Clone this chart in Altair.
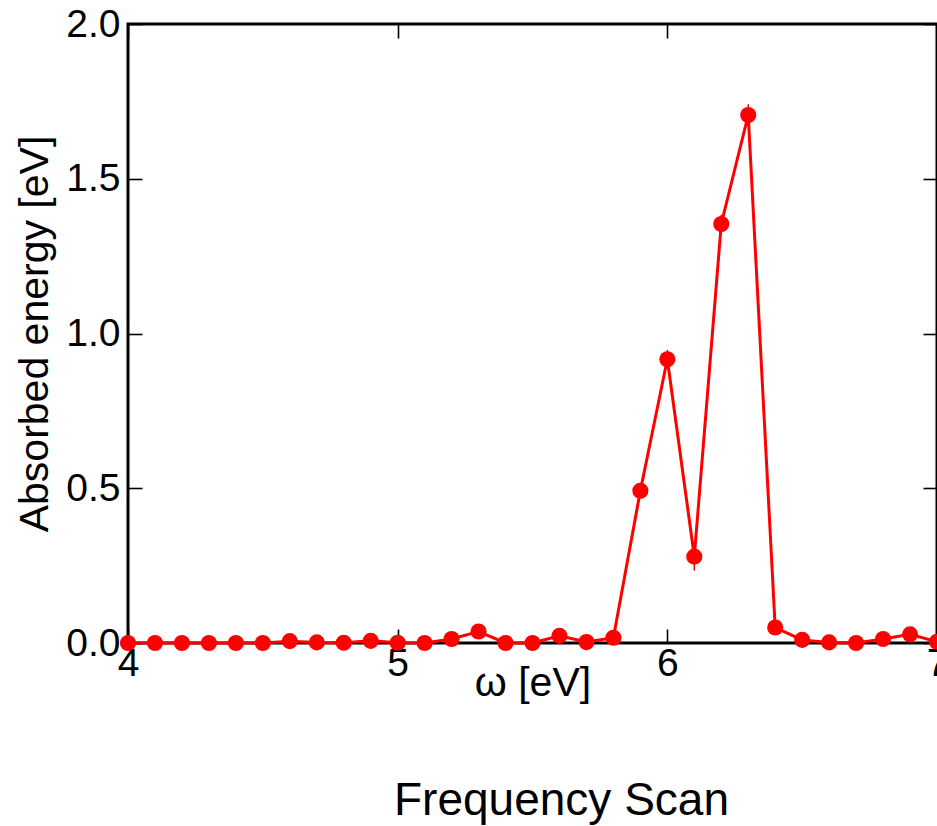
import altair as alt
import pandas as pd

# ---- data ----
omega = [4.0, 4.1, 4.2, 4.3, 4.4, 4.5, 4.6, 4.7, 4.8, 4.9,
         5.0, 5.1, 5.2, 5.3, 5.4, 5.5, 5.6, 5.7, 5.8, 5.9,
         6.0, 6.1, 6.2, 6.3, 6.4, 6.5, 6.6, 6.7, 6.8, 6.9, 7.0]
energy = [0.000, 0.000, 0.000, 0.000, 0.000, 0.000, 0.006, 0.002, 0.001, 0.007,
          0.001, 0.000, 0.013, 0.037, 0.000, 0.000, 0.023, 0.003, 0.017, 0.492,
          0.917, 0.279, 1.354, 1.706, 0.050, 0.010, 0.002, 0.000, 0.013, 0.028, 0.004]
err = [0.0, 0.0, 0.0, 0.0, 0.0, 0.0, 0.0, 0.0, 0.0, 0.0,
       0.0, 0.0, 0.0, 0.0, 0.0, 0.0, 0.0, 0.0, 0.0, 0.02,
       0.03, 0.045, 0.03, 0.035, 0.0, 0.0, 0.0, 0.0, 0.0, 0.0, 0.0]
x_ticks = [4, 5, 6, 7]
y_ticks = [0.0, 0.5, 1.0, 1.5, 2.0]

df = pd.DataFrame({"omega": omega, "energy": energy, "err": err})
df["lo"] = df["energy"] - df["err"]
df["hi"] = df["energy"] + df["err"]

RED = "#ff0000"
FONT = "Liberation Sans"
TICK = 14

xscale = alt.Scale(domain=[4, 7], nice=False, zero=False)
yscale = alt.Scale(domain=[0, 2], nice=False, zero=False)

common_axis = dict(domain=False, grid=False, tickSize=TICK, tickWidth=1.6,
                   tickColor="black", offset=-TICK, labelFont=FONT,
                   labelFontSize=39, labelColor="black", labelFlush=False,
                   labelOverlap=False, labelBound=False, titleFont=FONT,
                   titleFontSize=41, titleFontWeight="normal", titleColor="black")

x_axis = alt.Axis(values=x_ticks, format="d", orient="bottom", labelPadding=1,
                  title="ω [eV]", titlePadding=-20, **common_axis)
y_axis = alt.Axis(values=y_ticks, format=".1f", orient="left", labelPadding=8,
                  title="Absorbed energy [eV]", titlePadding=9, **common_axis)

x_top = alt.Axis(values=x_ticks, orient="top", labels=False, title=None,
                 domain=False, grid=False, tickSize=TICK, tickWidth=1.6,
                 tickColor="black", offset=-TICK)
y_right = alt.Axis(values=y_ticks, orient="right", labels=False, title=None,
                   domain=False, grid=False, tickSize=TICK, tickWidth=1.6,
                   tickColor="black", offset=-TICK)

base = alt.Chart(df)

line = base.mark_line(color=RED, strokeWidth=3).encode(
    x=alt.X("omega:Q", scale=xscale, axis=x_axis),
    y=alt.Y("energy:Q", scale=yscale, axis=y_axis),
)

errbars = base.mark_rule(color=RED, strokeWidth=1.5).encode(
    x=alt.X("omega:Q", scale=xscale, axis=x_top),
    y=alt.Y("lo:Q", scale=yscale, axis=y_right),
    y2="hi:Q",
)

points = base.mark_circle(color=RED, size=260, opacity=1).encode(
    x=alt.X("omega:Q", scale=xscale, axis=None),
    y=alt.Y("energy:Q", scale=yscale, axis=None),
)

chart = (
    alt.layer(line, errbars, points)
    .resolve_axis(x="independent", y="independent")
    .properties(
        width=809,
        height=619,
        padding={"left": 128, "top": 24, "right": 0, "bottom": 183},
        autosize=alt.AutoSizeParams(type="none"),
        title=alt.TitleParams("Frequency Scan", orient="bottom", anchor="middle",
                              fontSize=46, font=FONT, fontWeight="normal",
                              color="black", offset=76, dx=29),
        background="white",
    )
    .configure_view(stroke="black", strokeWidth=3)
)

chart.save("out.html", embed_options={"renderer": "svg", "actions": False})
